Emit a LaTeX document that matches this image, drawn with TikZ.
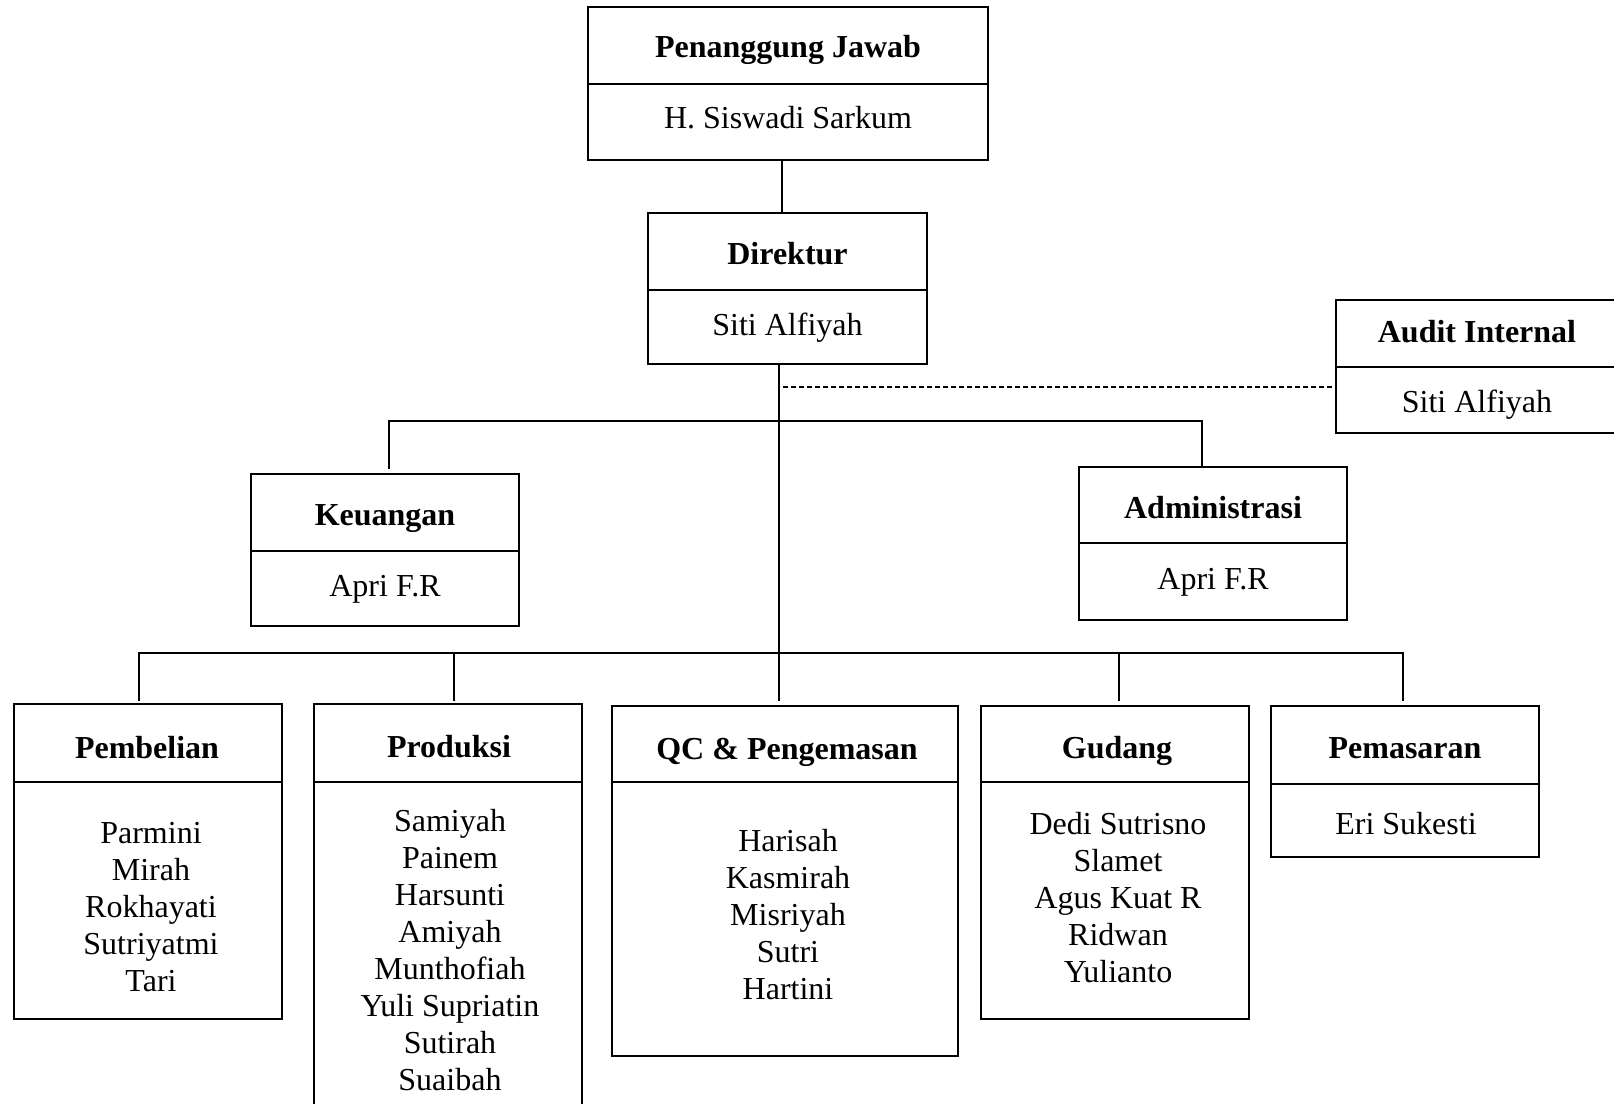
\documentclass[tikz,border=0pt]{standalone}
\usepackage{fontspec}
\setmainfont{Liberation Serif}
\begin{document}
\begin{tikzpicture}[x=1pt,y=-1pt,
  box/.style={draw, line width=1.7pt, rectangle, inner sep=0pt, outer sep=0pt, anchor=north west},
  divline/.style={line width=1.3pt},
  conn/.style={line width=1.3pt},
  dconn/.style={line width=1.2pt, dash pattern=on 5pt off 3pt},
  ttl/.style={font=\bfseries\fontsize{32}{37}\selectfont, inner sep=0pt},
  nm/.style={font=\fontsize{32}{37}\selectfont, align=center, inner sep=0pt}]
\useasboundingbox (0,0) rectangle (1614,1103);
\fill[white] (0,0) rectangle (1614,1103);

% Penanggung Jawab
\node[box, minimum width=400pt, minimum height=153pt] (pj) at (588,7) {};
\draw[divline] ([yshift=-77pt]pj.north west) -- ([yshift=-77pt]pj.north east);
\node[ttl] (pjt) at (788,50) {Penanggung Jawab};
\node[nm] (pjn) at (788,118) {H. Siswadi Sarkum};

% Direktur
\node[box, minimum width=279pt, minimum height=151pt] (dir) at (648,213) {};
\draw[divline] ([yshift=-77pt]dir.north west) -- ([yshift=-77pt]dir.north east);
\node[ttl] (dirt) at (787.5,254) {Direktur};
\node[nm] (dirn) at (787.5,328) {Siti Alfiyah};

% Audit Internal
\node[box, minimum width=282pt, minimum height=133pt] (aud) at (1336,300) {};
\draw[divline] ([yshift=-67pt]aud.north west) -- ([yshift=-67pt]aud.north east);
\node[ttl] (audt) at (1477,332) {Audit Internal};
\node[nm] (audn) at (1477,405) {Siti Alfiyah};

% Keuangan
\node[box, minimum width=268pt, minimum height=152pt] (keu) at (251,474) {};
\draw[divline] ([yshift=-77pt]keu.north west) -- ([yshift=-77pt]keu.north east);
\node[ttl] (keut) at (385,519) {Keuangan};
\node[nm] (keun) at (385,589) {Apri F.R};

% Administrasi
\node[box, minimum width=268pt, minimum height=153pt] (adm) at (1079,467) {};
\draw[divline] ([yshift=-76pt]adm.north west) -- ([yshift=-76pt]adm.north east);
\node[ttl] (admt) at (1213,508) {Administrasi};
\node[nm] (admn) at (1213,582) {Apri F.R};

% Pembelian
\node[box, minimum width=268pt, minimum height=315pt] (pem) at (14,704) {};
\draw[divline] ([yshift=-78pt]pem.north west) -- ([yshift=-78pt]pem.north east);
\node[ttl] (pemt) at (147,748) {Pembelian};
\node[nm] (pemn) at (151,907) {Parmini\\Mirah\\Rokhayati\\Sutriyatmi\\Tari};

% Produksi
\node[box, minimum width=268pt, minimum height=410pt] (pro) at (314,704) {};
\draw[divline] ([yshift=-78pt]pro.north west) -- ([yshift=-78pt]pro.north east);
\node[ttl] (prot) at (449,747) {Produksi};
\node[nm] (pron) at (450,950) {Samiyah\\Painem\\Harsunti\\Amiyah\\Munthofiah\\Yuli Supriatin\\Sutirah\\Suaibah};

% QC & Pengemasan
\node[box, minimum width=346pt, minimum height=350pt] (qc) at (612,706) {};
\draw[divline] ([yshift=-76pt]qc.north west) -- ([yshift=-76pt]qc.north east);
\node[ttl] (qct) at (787,752) {QC \& Pengemasan};
\node[nm] (qcn) at (788,915) {Harisah\\Kasmirah\\Misriyah\\Sutri\\Hartini};

% Gudang
\node[box, minimum width=268pt, minimum height=313pt] (gud) at (981,706) {};
\draw[divline] ([yshift=-76pt]gud.north west) -- ([yshift=-76pt]gud.north east);
\node[ttl] (gudt) at (1117,751) {Gudang};
\node[nm] (gudn) at (1118,898) {Dedi Sutrisno\\Slamet\\Agus Kuat R\\Ridwan\\Yulianto};

% Pemasaran
\node[box, minimum width=268pt, minimum height=151pt] (pms) at (1271,706) {};
\draw[divline] ([yshift=-78pt]pms.north west) -- ([yshift=-78pt]pms.north east);
\node[ttl] (pmst) at (1405,748) {Pemasaran};
\node[nm] (pmsn) at (1406,824) {Eri Sukesti};

% connectors
\coordinate (c1) at ([xshift=-6pt]pj.south);
\draw[conn] (c1) -- (c1 |- dir.north);

\coordinate (tr) at ([xshift=-8.5pt]dir.south);
\coordinate (qctop) at ([yshift=5pt]qc.north);
\draw[conn] (tr) -- (tr |- qctop);

\coordinate (dsh) at (783,387);
\draw[dconn] (dsh) -- (dsh -| aud.west);

\coordinate (busL) at (389,421);
\coordinate (busR) at (1202,421);
\coordinate (keutop) at ([yshift=5pt]keu.north);
\coordinate (admtop) at ([yshift=1pt]adm.north);
\draw[conn] (busL |- keutop) -- (busL) -- (busR) -- (busR |- admtop);

\coordinate (lbL) at (139,653);
\coordinate (lbR) at (1403,653);
\coordinate (ptop) at ([yshift=3pt]pem.north);
\draw[conn] (lbL |- ptop) -- (lbL) -- (lbR) -- (lbR |- qctop);
\coordinate (dpro) at (454,653);
\draw[conn] (dpro) -- (dpro |- ptop);
\coordinate (dgud) at (1119,653);
\draw[conn] (dgud) -- (dgud |- qctop);
\end{tikzpicture}
\end{document}
